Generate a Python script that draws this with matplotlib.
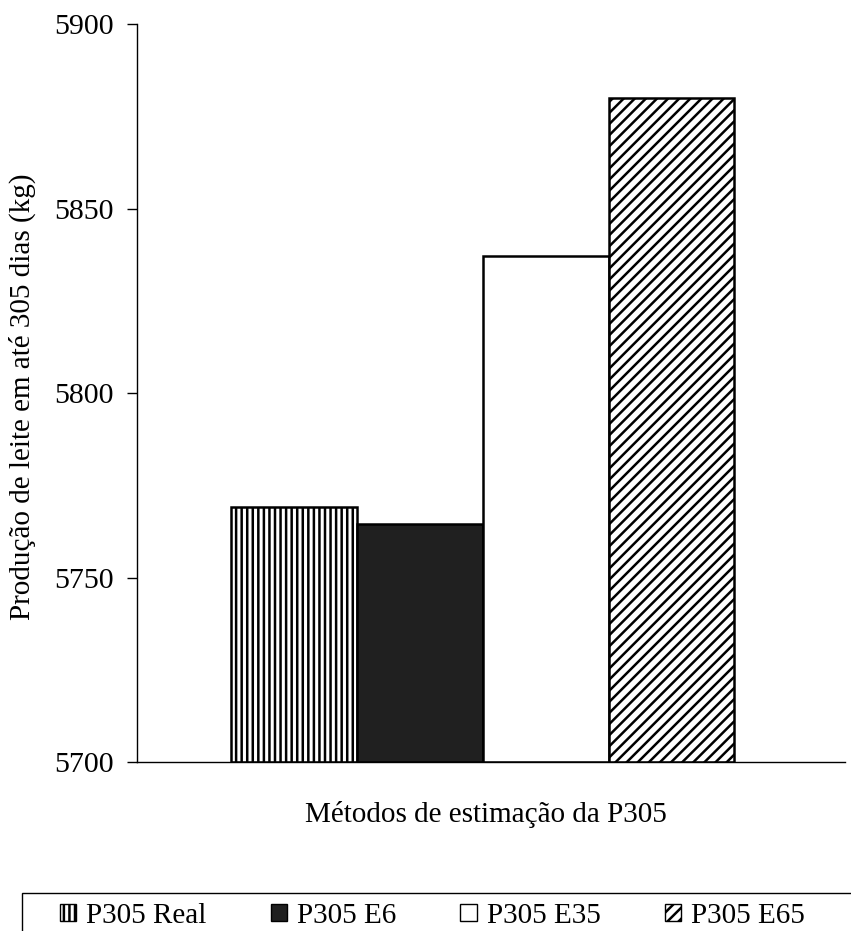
import matplotlib.pyplot as plt
from matplotlib.patches import Patch, Rectangle

plt.rcParams['font.family'] = ['Liberation Serif', 'DejaVu Serif']
plt.rcParams['hatch.linewidth'] = 1.8

series = ["P305 Real", "P305 E6", "P305 E35", "P305 E65"]
values = [5769, 5764.5, 5837, 5880]
faces = ["white", "#202020", "white", "white"]
hatches = ["|||", None, None, "///"]
yticks = [5700, 5750, 5800, 5850, 5900]

fig = plt.figure(figsize=(8.51, 9.31), dpi=100)
ax = fig.add_axes([137 / 851, 0.1815, 708 / 851, 0.7927])

for i, (name, v) in enumerate(zip(series, values)):
    ax.bar(i, v - 5700, bottom=5700, width=1.0, color=faces[i],
           edgecolor="black", linewidth=1.8, hatch=hatches[i], label=name)

ax.set_ylim(5700, 5900)
ax.set_xlim(-1.25, 4.38)
ax.set_yticks(yticks)
ax.set_yticklabels([str(t) for t in yticks], fontsize=21.5)
ax.set_xticks([])
ax.spines["top"].set_visible(False)
ax.spines["right"].set_visible(False)
ax.spines["left"].set_linewidth(1.0)
ax.spines["bottom"].set_linewidth(1.0)
ax.tick_params(axis="y", direction="out", length=7, width=1.0, pad=10)

ax.set_ylabel("Produção de leite em até 305 dias (kg)", fontsize=21)
ax.yaxis.set_label_coords(-0.142, 0.495)
ax.set_xlabel("Métodos de estimação da P305", fontsize=21)
ax.xaxis.set_label_coords(0.493, -0.053)

# legend box runs off the right and bottom edges, as in the scan
fig.add_artist(Rectangle((22 / 851, -0.05), 1.1, 0.05 + (931 - 893) / 931,
                         transform=fig.transFigure, fill=False,
                         edgecolor="black", linewidth=1.0, clip_on=False))

handles = [Patch(facecolor=faces[i], edgecolor="black", hatch=hatches[i], linewidth=1.0)
           for i in range(len(series))]
fig.legend(handles, series, loc="center left", ncol=4,
           bbox_to_anchor=(60 / 851, 1 - 916 / 931),
           fontsize=21, frameon=False,
           handlelength=0.55, handleheight=0.55, handletextpad=0.35,
           columnspacing=2.2, borderaxespad=0.0, borderpad=0.0)

fig.savefig("out.png", dpi=100)
